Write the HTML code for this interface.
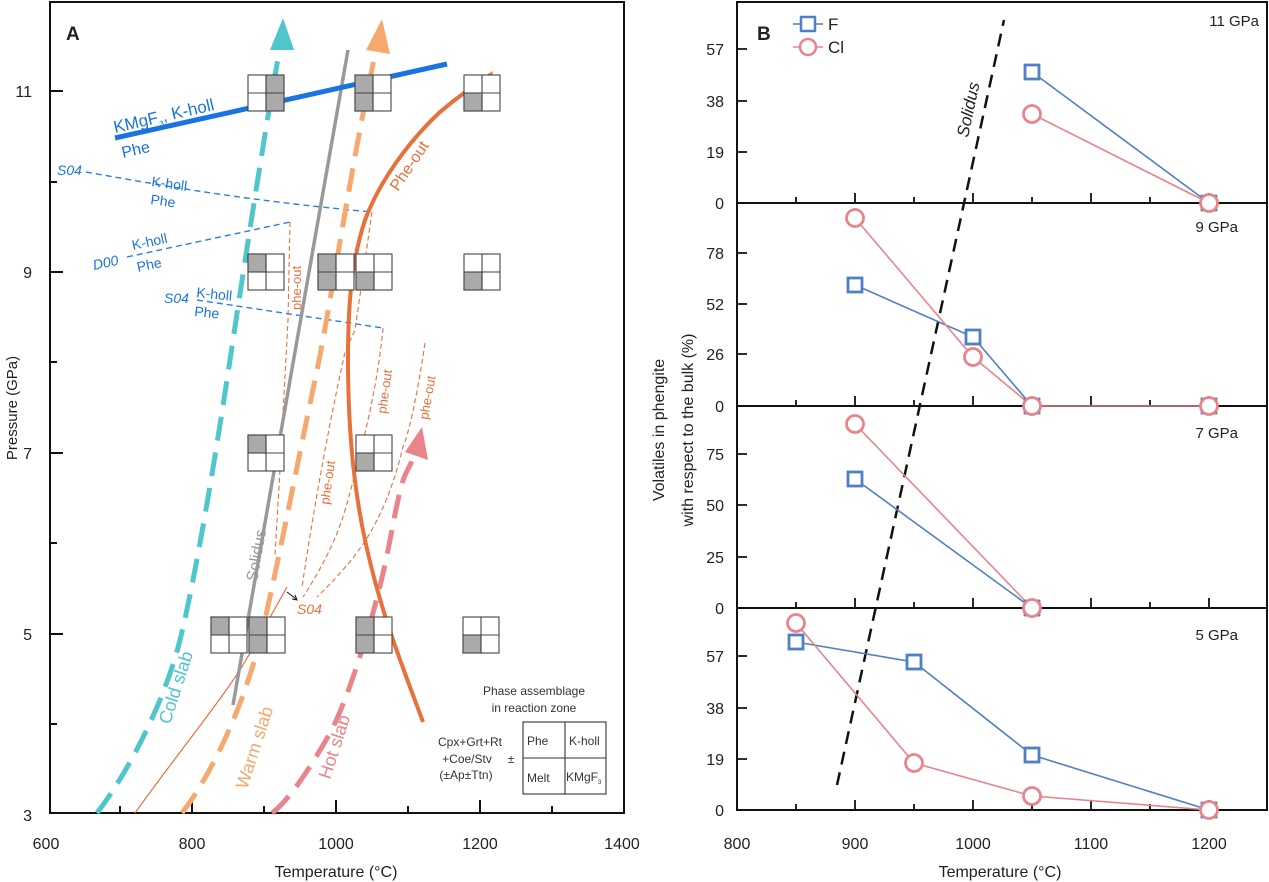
<!DOCTYPE html>
<html><head><meta charset="utf-8"><style>
html,body{margin:0;padding:0;background:#fff}
svg{display:block;font-family:"Liberation Sans",sans-serif}
</style></head><body>
<svg width="1269" height="882" viewBox="0 0 1269 882" xmlns="http://www.w3.org/2000/svg">
<defs>
<g id="box"><rect x="-18" y="-18" width="36" height="36" fill="#fff" stroke="#444" stroke-width="1.2"/></g>
</defs>
<!-- ===== Panel A ===== -->
<rect x="50" y="2" width="574" height="811" fill="none" stroke="#111" stroke-width="2"/>
<g stroke="#111" stroke-width="2">
<line x1="50" y1="91" x2="63" y2="91"/><line x1="50" y1="272" x2="63" y2="272"/><line x1="50" y1="453" x2="63" y2="453"/><line x1="50" y1="634" x2="63" y2="634"/>
<line x1="50" y1="182" x2="57" y2="182"/><line x1="50" y1="362" x2="57" y2="362"/><line x1="50" y1="543" x2="57" y2="543"/><line x1="50" y1="724" x2="57" y2="724"/>
<line x1="192" y1="813" x2="192" y2="800"/><line x1="336" y1="813" x2="336" y2="800"/><line x1="480" y1="813" x2="480" y2="800"/>
<line x1="120" y1="813" x2="120" y2="806"/><line x1="264" y1="813" x2="264" y2="806"/><line x1="408" y1="813" x2="408" y2="806"/><line x1="552" y1="813" x2="552" y2="806"/>
</g>
<g font-size="16" fill="#222" text-anchor="end">
<text x="32" y="97">11</text><text x="32" y="278">9</text><text x="32" y="459">7</text><text x="32" y="640">5</text><text x="32" y="821">3</text>
</g>
<g font-size="16" fill="#222" text-anchor="middle">
<text x="46" y="849">600</text><text x="192" y="849">800</text><text x="336" y="849">1000</text><text x="480" y="849">1200</text><text x="622" y="849">1400</text>
<text x="336" y="877">Temperature (°C)</text>
</g>
<text transform="translate(17,408) rotate(-90)" font-size="15" fill="#222" text-anchor="middle">Pressure (GPa)</text>
<text x="66" y="40" font-size="19" font-weight="bold" fill="#222">A</text>

<!-- blue dashed lines -->
<g fill="none" stroke="#2a7fe0" stroke-width="1.4" stroke-dasharray="6,4">
<path d="M86,172 C160,185 240,200 372,212"/>
<path d="M127,257 L290,222"/>
<path d="M197,300 L383,328"/>
</g>
<g fill="#1a73e0" font-size="14" font-style="italic">
<text x="57" y="175">S04</text>
<text x="94" y="270" transform="rotate(-12 94 270)">D00</text>
<text x="164" y="303">S04</text>
</g>
<g fill="#1a73e0" font-size="14">
<text x="151" y="186" transform="rotate(8 151 186)">K-holl</text><text x="150" y="204" transform="rotate(8 150 204)">Phe</text>
<text x="133" y="250" transform="rotate(-12 133 250)">K-holl</text><text x="138" y="272" transform="rotate(-12 138 272)">Phe</text>
<text x="196" y="297" transform="rotate(6 196 297)">K-holl</text><text x="194" y="316" transform="rotate(6 194 316)">Phe</text>
</g>
<!-- thin orange dashed phe-out -->
<g fill="none" stroke="#e8703a" stroke-width="1.1" stroke-dasharray="5,3">
<path d="M290,222 L288,320 L280,470 L275,555"/>
<path d="M372,212 L355,330 L345,352 C330,420 315,500 302,587"/>
<path d="M383,328 C378,380 367,430 348,500 C340,530 327,560 303,597"/>
<path d="M425,343 C418,390 410,430 403,447 C395,480 385,505 377,520 C365,545 345,570 317,597"/>
</g>
<g fill="#e8703a" font-size="13">
<text transform="translate(301,310) rotate(-90)">phe-out</text>
<text transform="translate(329,505) rotate(-82)">phe-out</text>
<text transform="translate(386,414) rotate(-82)">phe-out</text>
<text transform="translate(428,420) rotate(-80)">phe-out</text>
<text x="297" y="614" font-size="14" font-style="italic">S04</text>
</g>
<path d="M287,592 L296,599" stroke="#111" stroke-width="1"/><path d="M292,599 L297,600 L295,595" fill="none" stroke="#111" stroke-width="1"/>
<!-- thin orange solid -->
<path d="M135,813 C180,750 230,690 250,653 L287,587" fill="none" stroke="#e8703a" stroke-width="1.2"/>
<!-- solidus -->
<path d="M233,705 L348,50" stroke="#999" stroke-width="3.5"/>
<text transform="translate(257,582) rotate(-80)" font-size="16" fill="#999">Solidus</text>
<!-- thick blue -->
<path d="M115,138 L447,64" stroke="#1a73e0" stroke-width="5"/>
<text transform="translate(115,133) rotate(-13)" font-size="17" fill="#1a73e0">KMgF<tspan font-size="8" dy="4">3</tspan><tspan dy="-4">, K-holl</tspan></text>
<text transform="translate(123,158) rotate(-13)" font-size="16" fill="#1a73e0">Phe</text>
<!-- slabs -->
<path d="M97,813 C130,770 165,700 180,640 S215,460 230,360 S268,110 280,48" fill="none" stroke="#4fc5cc" stroke-width="5" stroke-dasharray="24,12"/>
<path d="M283,18 L270,50 L294,50 Z" fill="#4fc5cc"/>
<path d="M182,813 C215,770 245,700 260,640 S300,450 315,380 S350,170 376,50" fill="none" stroke="#f7a86e" stroke-width="5" stroke-dasharray="24,12"/>
<path d="M382,19 L366,50 L390,54 Z" fill="#f7a86e"/>
<path d="M272,813 C290,800 315,760 330,733 S375,620 390,540 S405,480 413,458" fill="none" stroke="#e8848a" stroke-width="5" stroke-dasharray="24,12"/>
<path d="M422,427 L405,452 L428,460 Z" fill="#e8848a"/>
<text transform="translate(170,725) rotate(-72)" font-size="18" fill="#4fc5cc">Cold slab</text>
<text transform="translate(247,790) rotate(-72)" font-size="18" fill="#f7a86e">Warm slab</text>
<text transform="translate(330,780) rotate(-72)" font-size="18" fill="#e8848a">Hot slab</text>
<!-- phe-out thick -->
<path d="M423,722 C400,660 380,610 365,540 C352,480 348,420 348,360 C348,300 352,260 365,220 C380,180 410,140 440,112 C460,95 475,85 490,75" fill="none" stroke="#e8703a" stroke-width="4"/>
<path d="M493,71 L485,76 L491,80 Z" fill="#e8703a"/>
<text transform="translate(398,192) rotate(-56)" font-size="16" fill="#e8703a">Phe-out</text>

<!-- boxes: gray cells -->
<g id="boxes" stroke="#444" stroke-width="1.1">
<!-- helper: each box 36x36 -->
<g transform="translate(266,93)"><rect x="-18" y="-18" width="36" height="36" fill="#fff"/><rect x="0" y="-18" width="18" height="36" fill="#aaa"/><path d="M0,-18V18M-18,0H18" fill="none"/></g>
<g transform="translate(373,93)"><rect x="-18" y="-18" width="36" height="36" fill="#fff"/><rect x="-18" y="-18" width="18" height="36" fill="#aaa"/><path d="M0,-18V18M-18,0H18" fill="none"/></g>
<g transform="translate(482,93)"><rect x="-18" y="-18" width="36" height="36" fill="#fff"/><rect x="-18" y="0" width="18" height="18" fill="#aaa"/><path d="M0,-18V18M-18,0H18" fill="none"/></g>
<g transform="translate(266,272)"><rect x="-18" y="-18" width="36" height="36" fill="#fff"/><rect x="-18" y="-18" width="18" height="18" fill="#aaa"/><path d="M0,-18V18M-18,0H18" fill="none"/></g>
<g transform="translate(336,272)"><rect x="-18" y="-18" width="36" height="36" fill="#fff"/><rect x="-18" y="-18" width="18" height="36" fill="#aaa"/><path d="M0,-18V18M-18,0H18" fill="none"/></g>
<g transform="translate(374,272)"><rect x="-18" y="-18" width="36" height="36" fill="#fff"/><rect x="-18" y="0" width="18" height="18" fill="#aaa"/><path d="M0,-18V18M-18,0H18" fill="none"/></g>
<g transform="translate(482,272)"><rect x="-18" y="-18" width="36" height="36" fill="#fff"/><rect x="-18" y="0" width="18" height="18" fill="#aaa"/><path d="M0,-18V18M-18,0H18" fill="none"/></g>
<g transform="translate(266,453)"><rect x="-18" y="-18" width="36" height="36" fill="#fff"/><rect x="-18" y="-18" width="18" height="18" fill="#aaa"/><path d="M0,-18V18M-18,0H18" fill="none"/></g>
<g transform="translate(374,453)"><rect x="-18" y="-18" width="36" height="36" fill="#fff"/><rect x="-18" y="0" width="18" height="18" fill="#aaa"/><path d="M0,-18V18M-18,0H18" fill="none"/></g>
<g transform="translate(229,635)"><rect x="-18" y="-18" width="36" height="36" fill="#fff"/><rect x="-18" y="-18" width="18" height="18" fill="#aaa"/><path d="M0,-18V18M-18,0H18" fill="none"/></g>
<g transform="translate(267,635)"><rect x="-18" y="-18" width="36" height="36" fill="#fff"/><rect x="-18" y="-18" width="18" height="36" fill="#aaa"/><path d="M0,-18V18M-18,0H18" fill="none"/></g>
<g transform="translate(374,635)"><rect x="-18" y="-18" width="36" height="36" fill="#fff"/><rect x="-18" y="-18" width="18" height="36" fill="#aaa"/><path d="M0,-18V18M-18,0H18" fill="none"/></g>
<g transform="translate(481,635)"><rect x="-18" y="-18" width="36" height="36" fill="#fff"/><rect x="-18" y="0" width="18" height="18" fill="#aaa"/><path d="M0,-18V18M-18,0H18" fill="none"/></g>
</g>
<!-- legend A -->
<g fill="#333" font-size="12" text-anchor="middle">
<text x="534" y="695">Phase assemblage</text><text x="534" y="712">in reaction zone</text>
<text x="470" y="746">Cpx+Grt+Rt</text><text x="467" y="763">+Coe/Stv</text><text x="511" y="763">±</text><text x="466" y="779">(±Ap±Ttn)</text>
</g>
<rect x="523" y="722" width="83" height="72" fill="none" stroke="#333" stroke-width="1.1"/>
<path d="M565,722V794M523,758H606" stroke="#333" stroke-width="1.1"/>
<g fill="#333" font-size="12"><text x="527" y="745">Phe</text><text x="569" y="745">K-holl</text><text x="527" y="782">Melt</text><text x="566" y="781">KMgF<tspan font-size="6" dy="3">3</tspan></text></g>

<!-- ===== Panel B ===== -->
<rect x="737" y="2" width="530" height="808" fill="none" stroke="#111" stroke-width="2"/>
<g stroke="#111" stroke-width="2">
<line x1="737" y1="203" x2="1267" y2="203"/><line x1="737" y1="406" x2="1267" y2="406"/><line x1="737" y1="608" x2="1267" y2="608"/>
</g>
<g stroke="#111" stroke-width="1.8" id="xt">
<path d="M796,203v-6M855,203v-10M914,203v-6M973,203v-10M1032,203v-6M1091,203v-10M1150,203v-6M1209,203v-10"/>
<path d="M796,406v-6M855,406v-10M914,406v-6M973,406v-10M1032,406v-6M1091,406v-10M1150,406v-6M1209,406v-10"/>
<path d="M796,608v-6M855,608v-10M914,608v-6M973,608v-10M1032,608v-6M1091,608v-10M1150,608v-6M1209,608v-10"/>
<path d="M796,810v-6M855,810v-10M914,810v-6M973,810v-10M1032,810v-6M1091,810v-10M1150,810v-6M1209,810v-10"/>
<path d="M737,152h10M737,101h10M737,49h10M737,354h10M737,304h10M737,253h10M737,557h10M737,505h10M737,454h10M737,759h10M737,708h10M737,656h10"/>
</g>
<g font-size="16" fill="#222" text-anchor="end">
<text x="724" y="209">0</text><text x="724" y="158">19</text><text x="724" y="107">38</text><text x="724" y="55">57</text>
<text x="724" y="412">0</text><text x="724" y="360">26</text><text x="724" y="310">52</text><text x="724" y="259">78</text>
<text x="724" y="614">0</text><text x="724" y="563">25</text><text x="724" y="511">50</text><text x="724" y="460">75</text>
<text x="724" y="816">0</text><text x="724" y="765">19</text><text x="724" y="714">38</text><text x="724" y="662">57</text>
</g>
<g font-size="16" fill="#222" text-anchor="middle">
<text x="737" y="849">800</text><text x="855" y="849">900</text><text x="973" y="849">1000</text><text x="1091" y="849">1100</text><text x="1209" y="849">1200</text>
<text x="1000" y="877">Temperature (°C)</text>
</g>
<g font-size="16" fill="#222" text-anchor="middle">
<text transform="translate(664,430) rotate(-90)">Volatiles in phengite</text>
<text transform="translate(693,430) rotate(-90)">with respect to the bulk (%)</text>
</g>
<g font-size="15" fill="#222" text-anchor="end">
<text x="1259" y="26">11 GPa</text><text x="1238" y="232">9 GPa</text><text x="1238" y="438">7 GPa</text><text x="1238" y="640">5 GPa</text>
</g>
<text x="757" y="40" font-size="19" font-weight="bold" fill="#222">B</text>
<!-- legend B -->
<path d="M793,24h30" stroke="#4f7fc4" stroke-width="1.5"/><rect x="801" y="17" width="14" height="14" fill="#fff" stroke="#4f7fc4" stroke-width="2.5"/>
<path d="M793,47h30" stroke="#e8848a" stroke-width="1.5"/><circle cx="808" cy="47" r="8" fill="#fff" stroke="#e8848a" stroke-width="2.5"/>
<text x="828" y="30" font-size="17" fill="#222">F</text><text x="828" y="53" font-size="17" fill="#222">Cl</text>
<!-- solidus B -->
<path d="M837,785 L1004,20" stroke="#111" stroke-width="2.5" stroke-dasharray="13,8" fill="none"/>
<text transform="translate(968,138) rotate(-78)" font-size="17" font-style="italic" fill="#222">Solidus</text>
<!-- data lines -->
<g fill="none" stroke-width="1.6">
<path d="M1032,72 L1209,203" stroke="#4f7fc4"/><path d="M1032,114 L1209,203" stroke="#e8848a"/>
<path d="M855,285 L973,337 L1032,406" stroke="#4f7fc4"/><path d="M855,218 L973,357 L1032,406 L1209,406" stroke="#e8848a"/>
<path d="M855,479 L1032,608" stroke="#4f7fc4"/><path d="M855,424 L1032,608" stroke="#e8848a"/>
<path d="M796,642 L914,662 L1032,755 L1209,810" stroke="#4f7fc4"/><path d="M796,623 L914,763 L1032,796 L1209,810" stroke="#e8848a"/>
</g>
<g fill="#fff" stroke="#4f7fc4" stroke-width="2.8">
<rect x="1025" y="65" width="14" height="14"/><rect x="1202" y="196" width="14" height="14"/>
<rect x="848" y="278" width="14" height="14"/><rect x="966" y="330" width="14" height="14"/><rect x="1025" y="399" width="14" height="14"/><rect x="1202" y="399" width="14" height="14"/>
<rect x="848" y="472" width="14" height="14"/><rect x="1025" y="601" width="14" height="14"/>
<rect x="789" y="635" width="14" height="14"/><rect x="907" y="655" width="14" height="14"/><rect x="1025" y="748" width="14" height="14"/><rect x="1202" y="803" width="14" height="14"/>
</g>
<g fill="#fff" stroke="#e8848a" stroke-width="2.8">
<circle cx="1032" cy="114" r="8.5"/><circle cx="1209" cy="203" r="8.5"/>
<circle cx="855" cy="218" r="8.5"/><circle cx="973" cy="357" r="8.5"/><circle cx="1032" cy="406" r="8.5"/><circle cx="1209" cy="406" r="8.5"/>
<circle cx="855" cy="424" r="8.5"/><circle cx="1032" cy="608" r="8.5"/>
<circle cx="796" cy="623" r="8.5"/><circle cx="914" cy="763" r="8.5"/><circle cx="1032" cy="796" r="8.5"/><circle cx="1209" cy="810" r="8.5"/>
</g>
</svg>
</body></html>
